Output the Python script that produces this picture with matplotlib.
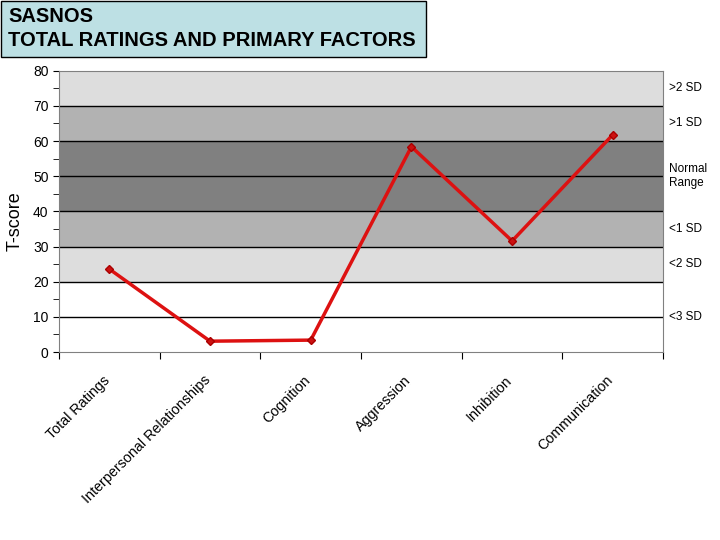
import numpy as np
import matplotlib.pyplot as plt
from matplotlib.patches import Rectangle

categories = ["Total Ratings", "Interpersonal Relationships", "Cognition",
              "Aggression", "Inhibition", "Communication"]
tscores = [23.6, 3.1, 3.4, 58.4, 31.6, 61.8]

# bandas de fondo (inicio, fin, color)
band_lo = [20, 30, 40, 60, 70]
band_hi = [30, 40, 60, 70, 80]
band_col = ["#dddddd", "#b2b2b2", "#808080", "#b2b2b2", "#dddddd"]

sd_labels = [">2 SD", ">1 SD", "Normal\nRange", "<1 SD", "<2 SD", "<3 SD"]
sd_pos = [75, 65, 50, 35, 25, 10]

fig = plt.figure(figsize=(7.2, 5.4), dpi=100)
plt.rcParams['font.family'] = ['Liberation Sans', 'DejaVu Sans']
ax = fig.add_axes([0.082, 0.348, 0.839, 0.521])

x = np.arange(len(categories))
for lo, hi, c in zip(band_lo, band_hi, band_col):
    ax.axhspan(lo, hi, color=c, zorder=0, lw=0)
for g in range(10, 80, 10):
    ax.axhline(g, color="black", lw=1, zorder=1)

ax.plot(x, tscores, color="#dd1111", lw=2.5, marker="D", ms=4,
        mfc="#cc1111", mec="#aa0000", zorder=3)

ax.set_xlim(-0.5, len(categories) - 0.5)
ax.set_ylim(0, 80)
ax.set_yticks(range(0, 81, 10))
ax.set_yticks(range(5, 80, 10), minor=True)
ax.tick_params(axis="y", which="both", direction="out", length=4, labelsize=10)
ax.set_xticks(np.arange(-0.5, len(categories), 1))
ax.set_xticklabels([])
ax.tick_params(axis="x", direction="out", length=5)
for xi, name in zip(x, categories):
    ax.text(xi - 0.07, -6.0, name, rotation=45, ha="right", va="top",
            rotation_mode="anchor", fontsize=10.3)

for s in ax.spines.values():
    s.set_color("#808080")

for lab, p in zip(sd_labels, sd_pos):
    ax.text(1.01, p / 80, lab, transform=ax.transAxes, fontsize=8.5,
            ha="left", va="center")

ax.set_ylabel("T-score", fontsize=13, va="center")
ax.yaxis.set_label_coords(-0.073, 0.465)

# caja del titulo
fig.patches.append(Rectangle((0.001, 1 - 57 / 540), 425 / 720, 56 / 540,
                             transform=fig.transFigure, facecolor="#bde0e4",
                             edgecolor="black", lw=1))
fig.text(0.011, 1 - 16 / 540, "SASNOS", fontsize=14.5, fontweight="bold",
         va="center", ha="left")
fig.text(0.011, 1 - 40 / 540, "TOTAL RATINGS AND PRIMARY FACTORS",
         fontsize=14.5, fontweight="bold", va="center", ha="left")

fig.savefig("out.png", dpi=100)
